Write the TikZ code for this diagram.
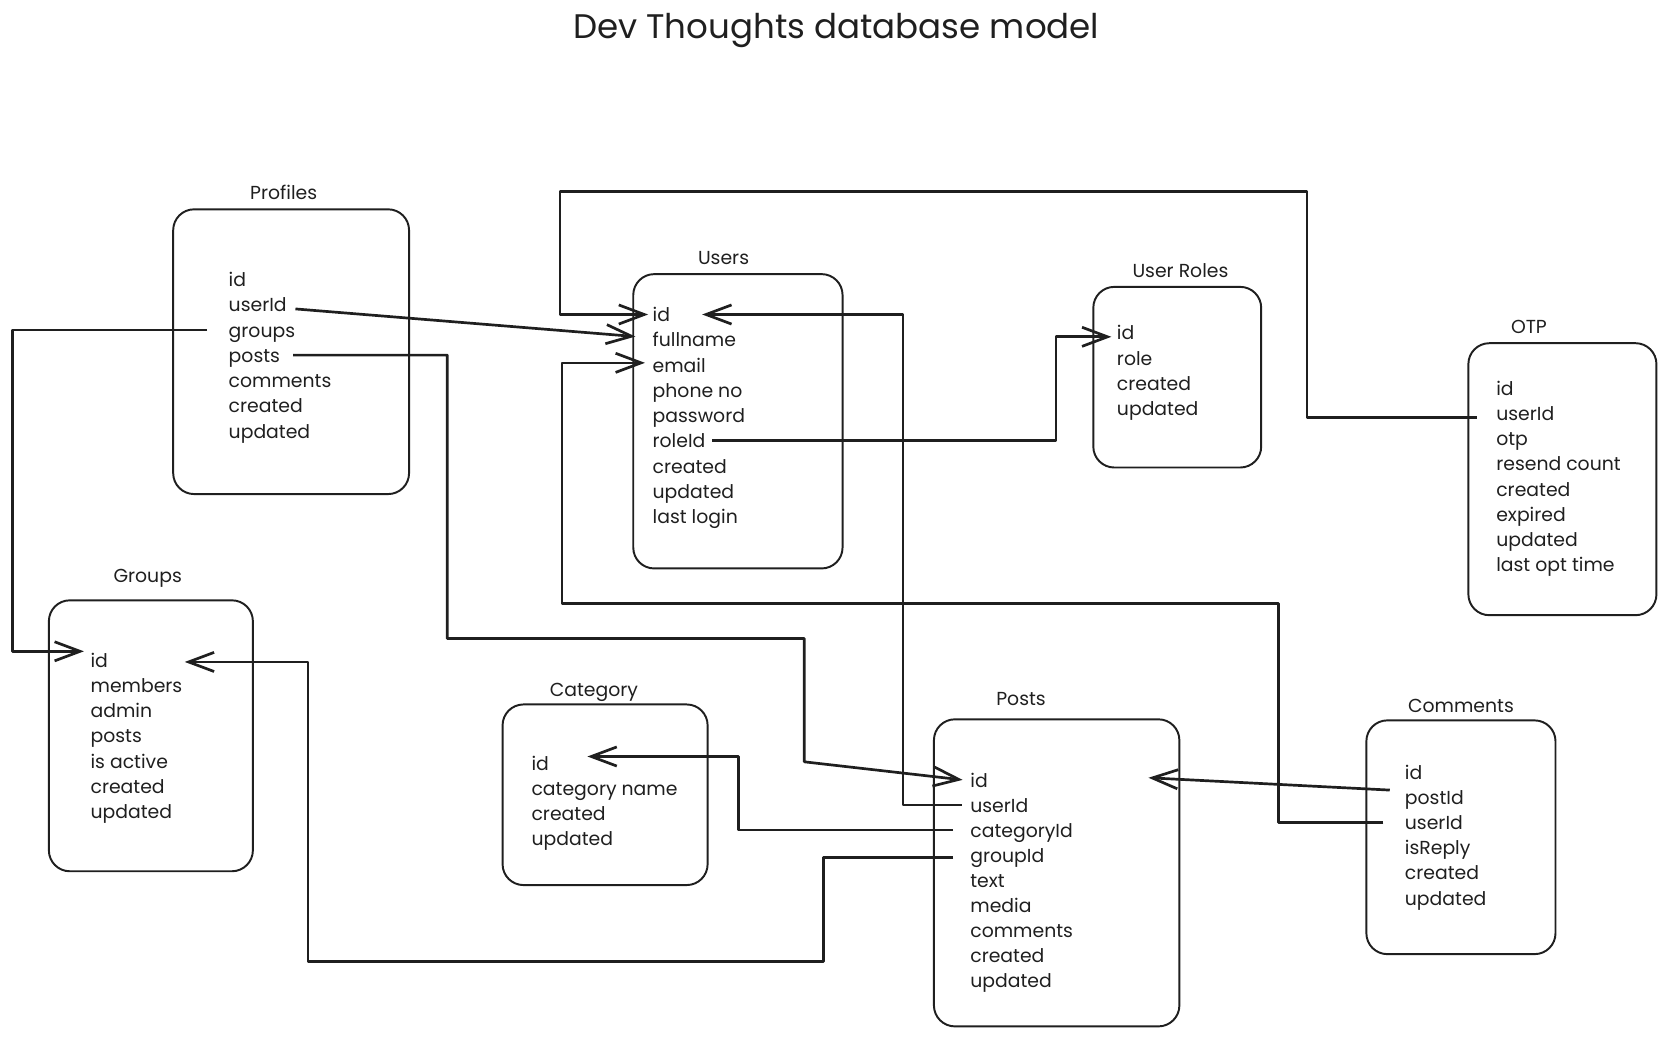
\documentclass[tikz,border=0pt]{standalone}
\usepackage{fontspec}
\setmainfont{Poppins}
\usepackage{tikz}
\usetikzlibrary{arrows.meta, positioning, fit, calc}

\newcommand\fieldsize{\fontsize{12.6}{15}\selectfont}
\newcommand\titlesize{\fontsize{22.8}{27}\selectfont}

\begin{document}
\begin{tikzpicture}[
    x=0.025cm, y=-0.025cm,
    tbl/.style={rectangle, draw=black!88, line width=1.3pt, rounded corners=14pt, inner sep=0pt},
    tname/.style={font=\fieldsize, text=black!88},
    field/.style={anchor=west, inner sep=0pt, text height=1.5ex, text depth=.25ex, font=\fieldsize, text=black!88},
    conn/.style={-{Straight Barb[length=6mm, width=4.5mm]}, line width=1.8pt, draw=black!88, line join=round},
]
\useasboundingbox (0,0) rectangle (1568,976);

% === TITLE ===
\node[font=\titlesize, text=black!88] (title) at (787,29) {Dev Thoughts database model};

% === TABLE: PROFILES ===
\node[tbl, fit={(163,197) (385,465)}] (profiles) {};
\node[tname] (profiles-name) at (267,181) {Profiles};
\foreach \n/\t [count=\i from 0] in {id/id,userId/userId,groups/groups,posts/posts,comments/comments,created/created,updated/updated}
    \node[field] (pro-\n) at (215,265+23.75*\i) {\t};

% === TABLE: USERS ===
\node[tbl, fit={(596,258) (793,535)}] (users) {};
\node[tname] (users-name) at (681,243) {Users};
\foreach \n/\t [count=\i from 0] in {id/id,fullname/fullname,email/email,phone/phone no,password/password,roleId/roleId,created/created,updated/updated,login/last login}
    \node[field] (usr-\n) at (614,298+23.75*\i) {\t};

% === TABLE: USER ROLES ===
\node[tbl, fit={(1029,270) (1187,440)}] (roles) {};
\node[tname] (roles-name) at (1111,255) {User Roles};
\foreach \n/\t [count=\i from 0] in {id/id,role/role,created/created,updated/updated}
    \node[field] (uro-\n) at (1051,315+23.75*\i) {\t};

% === TABLE: OTP ===
\node[tbl, fit={(1382,323) (1559,579)}] (otp) {};
\node[tname] (otp-name) at (1439,308) {OTP};
\foreach \n/\t [count=\i from 0] in {id/id,userId/userId,otp/otp,resend/resend count,created/created,expired/expired,updated/updated,last/last opt time}
    \node[field] (otp-\n) at (1408,367+23.75*\i) {\t};

% === TABLE: GROUPS ===
\node[tbl, fit={(46,565) (238,820)}] (groups) {};
\node[tname] (groups-name) at (139,544) {Groups};
\foreach \n/\t [count=\i from 0] in {id/id,members/members,admin/admin,posts/posts,active/is active,created/created,updated/updated}
    \node[field] (grp-\n) at (85,623+23.75*\i) {\t};

% === TABLE: CATEGORY ===
\node[tbl, fit={(473,663) (666,833)}] (category) {};
\node[tname] (category-name) at (559,652) {Category};
\foreach \n/\t [count=\i from 0] in {id/id,name/category name,created/created,updated/updated}
    \node[field] (cat-\n) at (500,720+23.75*\i) {\t};

% === TABLE: POSTS ===
\node[tbl, fit={(879,677) (1110,966)}] (posts) {};
\node[tname] (posts-name) at (961,658) {Posts};
\foreach \n/\t [count=\i from 0] in {id/id,userId/userId,categoryId/categoryId,groupId/groupId,text/text,media/media,comments/comments,created/created,updated/updated}
    \node[field] (pst-\n) at (913,736+23.6*\i) {\t};

% === TABLE: COMMENTS ===
\node[tbl, fit={(1286,678) (1464,898)}] (comments) {};
\node[tname] (comments-name) at (1375,664) {Comments};
\foreach \n/\t [count=\i from 0] in {id/id,postId/postId,userId/userId,isReply/isReply,created/created,updated/updated}
    \node[field] (cmt-\n) at (1322,729+23.6*\i) {\t};

% === RELATIONS ===
\draw[conn] ($(otp-userId.west)+(-18,2)$) -| (1230,180) -- (527,180) |- ($(usr-id.west)+(-4,-2)$);
\draw[conn] ($(pro-userId.east)+(8,2)$) -- ($(usr-fullname.west)+(-16,-5)$);
\draw[conn] ($(cmt-userId.west)+(-20,-2)$) -| (1203,568) -- (529,568) |- ($(usr-email.west)+(-7,-4)$);
\draw[conn] ($(pst-userId.west)+(-8,-2)$) -- ++(-55,0) |- ($(usr-id.east)+(30,-2)$);
\draw[conn] ($(usr-roleId.east)+(6,-2)$) -| ($(uro-id.west)+(-57,2)$) -- ($(uro-id.west)+(-5,2)$);
\draw[conn] ($(pro-groups.west)+(-20,-2)$) -| ($(grp-id.west)+(-73,-10)$) -- ($(grp-id.west)+(-6,-10)$);
\draw[conn] ($(pro-posts.east)+(12,-2)$) -| (421,601) -- (757,601) -- (757,717) -- ($(pst-id.west)+(-7,-2)$);
\draw[conn] ($(pst-categoryId.west)+(-16,-2)$) -- ++(-202,0) |- ($(cat-id.east)+(36,-8)$);
\draw[conn] ($(pst-groupId.west)+(-16,0)$) -- ++(-122,0) |- (290,905) |- ($(grp-id.east)+(72,0)$);
\draw[conn] ($(cmt-postId.west)+(-14,-9)$) -- ($(posts.east |- pst-id)+(-30,-4)$);

\end{tikzpicture}
\end{document}
